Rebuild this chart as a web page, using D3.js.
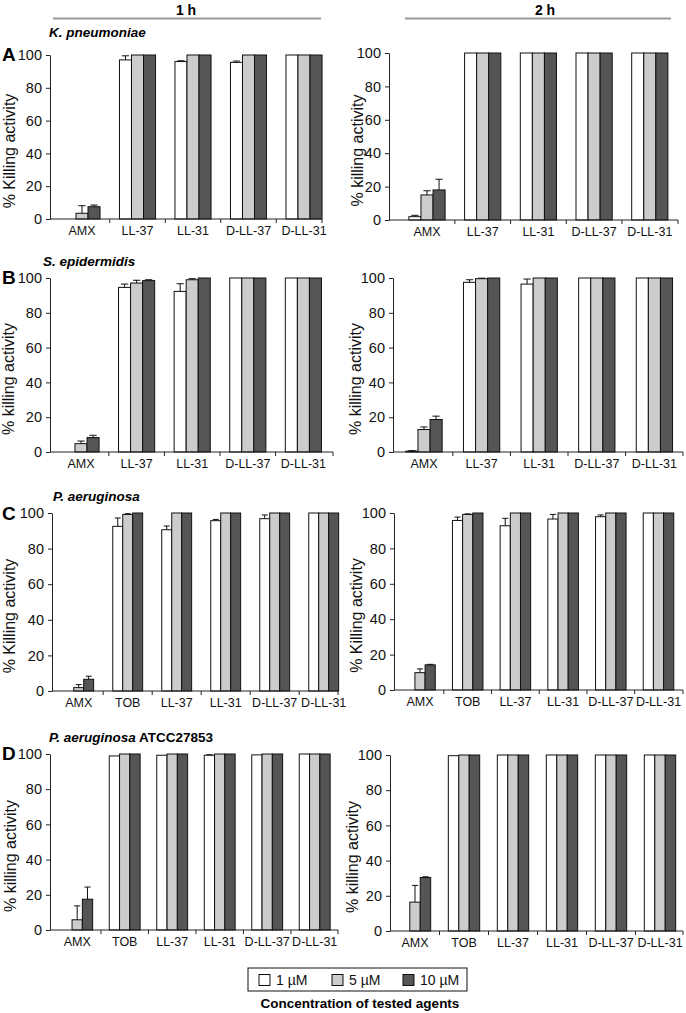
<!DOCTYPE html>
<html><head><meta charset="utf-8">
<script src="https://cdn.jsdelivr.net/npm/d3@7"></script>
<style>
body{margin:0;background:#fff}
svg{display:block;font-family:"Liberation Sans",Arial,sans-serif}
</style>
</head><body>
<svg id="chart" width="686" height="1013"></svg>
<script>
// ---------- DATA ----------
const concentrations = ["1 µM", "5 µM", "10 µM"];
const agents5 = ["AMX", "LL-37", "LL-31", "D-LL-37", "D-LL-31"];
const agents6 = ["AMX", "TOB", "LL-37", "LL-31", "D-LL-37", "D-LL-31"];
const yTicks = [0, 20, 40, 60, 80, 100];

// K. pneumoniae
const kp1h    = [[0, 3.5, 7.5], [97, 100, 100], [96, 100, 100], [95.5, 100, 100], [100, 100, 100]];
const kp1hErr = [[0, 4.6, 1], [2.5, 0, 0], [0.5, 0, 0], [0.8, 0, 0], [0, 0, 0]];
const kp2h    = [[2, 15, 18], [100, 100, 100], [100, 100, 100], [100, 100, 100], [100, 100, 100]];
const kp2hErr = [[0.8, 2.5, 6.4], [0, 0, 0], [0, 0, 0], [0, 0, 0], [0, 0, 0]];
// S. epidermidis
const se1h    = [[0, 4.8, 8.3], [94.6, 97.1, 98.5], [92.3, 99, 100], [100, 100, 100], [100, 100, 100]];
const se1hErr = [[0, 1.5, 1.3], [1.9, 1.6, 0.5], [4.4, 0.6, 0], [0, 0, 0], [0, 0, 0]];
const se2h    = [[0.5, 12.9, 18.7], [97.5, 99.6, 100], [96.5, 100, 100], [100, 100, 100], [100, 100, 100]];
const se2hErr = [[0.3, 1.5, 1.9], [1.5, 0.3, 0], [2.9, 0, 0], [0, 0, 0], [0, 0, 0]];
// P. aeruginosa
const pa1h    = [[0, 1.9, 6.6], [92.5, 99.2, 100], [90.6, 100, 100], [95.7, 100, 100], [96.8, 100, 100], [100, 100, 100]];
const pa1hErr = [[0, 1.7, 1.7], [4.7, 0.4, 0], [2.1, 0, 0], [0.7, 0, 0], [2.1, 0, 0], [0, 0, 0]];
const pa2h    = [[0, 9.8, 14.2], [95.8, 99.2, 100], [92.8, 100, 100], [96.6, 100, 100], [97.9, 100, 100], [100, 100, 100]];
const pa2hErr = [[0, 2.1, 0.3], [1.9, 0.3, 0], [4.2, 0, 0], [2.6, 0, 0], [1, 0, 0], [0, 0, 0]];
// P. aeruginosa ATCC27853
const atcc1h    = [[0, 5.8, 17.5], [98.9, 100, 100], [99.3, 100, 100], [99.3, 100, 100], [99.5, 100, 100], [100, 100, 100]];
const atcc1hErr = [[0, 7.9, 6.9], [0, 0, 0], [0, 0, 0], [0.3, 0, 0], [0, 0, 0], [0, 0, 0]];
const atcc2h    = [[0, 16.4, 30.4], [99.6, 100, 100], [100, 100, 100], [100, 100, 100], [100, 100, 100], [100, 100, 100]];
const atcc2hErr = [[0, 9.5, 0.4], [0, 0, 0], [0, 0, 0], [0, 0, 0], [0, 0, 0], [0, 0, 0]];

// ---------- STYLE ----------
const fills = ["#ffffff", "#cccccc", "#555555"];

const svg = d3.select("#chart");

const panels = [
  {cats: agents5, vals: kp1h, err: kp1hErr, title: "% Killing activity", x0: 50, xEnd: 322, y0: 219, y100: 55, c0: 82, step: 55.5, pad: 0.35, tx: 15},
  {cats: agents5, vals: kp2h, err: kp2hErr, title: "% killing activity", x0: 389, xEnd: 678, y0: 220, y100: 53, c0: 427, step: 55.7, pad: 0.35, tx: 363},
  {cats: agents5, vals: se1h, err: se1hErr, title: "% killing activity", x0: 50, xEnd: 333, y0: 452, y100: 278, c0: 81, step: 55.6, pad: 0.35, tx: 14},
  {cats: agents5, vals: se2h, err: se2hErr, title: "% killing activity", x0: 393, xEnd: 683, y0: 452, y100: 278, c0: 424, step: 57.6, pad: 0.37, tx: 361},
  {cats: agents6, vals: pa1h, err: pa1hErr, title: "% Killing activity", x0: 52, xEnd: 338, y0: 691, y100: 513, c0: 78.7, step: 49, pad: 0.39, tx: 15},
  {cats: agents6, vals: pa2h, err: pa2hErr, title: "% Killing activity", x0: 394, xEnd: 683, y0: 690, y100: 513, c0: 420, step: 47.7, pad: 0.36, tx: 362},
  {cats: agents6, vals: atcc1h, err: atcc1hErr, title: "% killing activity", x0: 50, xEnd: 338, y0: 930, y100: 754, c0: 77.2, step: 47.5, pad: 0.35, tx: 16},
  {cats: agents6, vals: atcc2h, err: atcc2hErr, title: "% killing activity", x0: 390, xEnd: 683, y0: 931, y100: 755, c0: 415, step: 49, pad: 0.36, tx: 358}
];

function drawPanel(p) {
  const g = svg.append("g");
  const y = d3.scaleLinear().domain([0, 100]).range([p.y0, p.y100]);
  const n = p.cats.length;
  const start = p.c0 - p.step / 2;
  const x = d3.scaleBand().domain(p.cats).range([start, start + n * p.step])
    .paddingInner(p.pad).paddingOuter(p.pad / 2);
  const xs = d3.scaleBand().domain(concentrations).range([0, x.bandwidth()]);

  // bars
  p.cats.forEach((c, i) => {
    concentrations.forEach((k, j) => {
      const v = p.vals[i][j];
      if (v <= 0) return;
      g.append("rect")
        .attr("x", x(c) + xs(k))
        .attr("y", y(v))
        .attr("width", xs.bandwidth())
        .attr("height", y(0) - y(v))
        .attr("fill", fills[j])
        .attr("stroke", "#111")
        .attr("stroke-width", 1);
    });
  });
  // error bars
  p.cats.forEach((c, i) => {
    concentrations.forEach((k, j) => {
      const v = p.vals[i][j], e = p.err[i][j];
      if (e <= 0) return;
      const cx = x(c) + xs(k) + xs.bandwidth() / 2;
      const cw = xs.bandwidth() * 0.3;
      g.append("line").attr("x1", cx).attr("x2", cx).attr("y1", y(v)).attr("y2", y(v + e))
        .attr("stroke", "#111").attr("stroke-width", 1);
      g.append("line").attr("x1", cx - cw).attr("x2", cx + cw).attr("y1", y(v + e)).attr("y2", y(v + e))
        .attr("stroke", "#111").attr("stroke-width", 1);
    });
  });

  // y axis
  const ya = g.append("g").attr("transform", `translate(${p.x0},0)`)
    .call(d3.axisLeft(y).tickValues(yTicks).tickSize(4).tickSizeOuter(0).tickPadding(4));
  ya.selectAll("text").attr("font-size", 14.5).attr("fill", "#111").attr("font-family", "Liberation Sans, Arial, sans-serif");
  ya.selectAll("line, path").attr("stroke", "#222");

  // x axis
  const xa = g.append("g").attr("transform", `translate(0,${p.y0})`)
    .call(d3.axisBottom(x).tickSize(0).tickPadding(7));
  xa.select(".domain").remove();
  xa.selectAll("text").attr("font-size", 12.5).attr("fill", "#111").attr("font-family", "Liberation Sans, Arial, sans-serif");
  g.append("line").attr("x1", p.x0).attr("x2", p.xEnd).attr("y1", p.y0).attr("y2", p.y0)
    .attr("stroke", "#222").attr("stroke-width", 1);
  const bounds = d3.range(1, n).map(i => start + i * p.step);
  bounds.push(p.xEnd);
  bounds.forEach(b => {
    g.append("line").attr("x1", b).attr("x2", b).attr("y1", p.y0).attr("y2", p.y0 + 4)
      .attr("stroke", "#222").attr("stroke-width", 1);
  });

  // y title
  g.append("text")
    .attr("transform", `translate(${p.tx},${(p.y0 + p.y100) / 2 + 14}) rotate(-90)`)
    .attr("text-anchor", "middle")
    .attr("font-size", 16)
    .attr("fill", "#111")
    .text(p.title);
}

panels.forEach(drawPanel);

// ---------- header ----------
svg.append("text").attr("x", 186).attr("y", 15).attr("text-anchor", "middle")
  .attr("font-size", 14).attr("font-weight", "bold").text("1 h");
svg.append("line").attr("x1", 53).attr("x2", 321).attr("y1", 18.5).attr("y2", 18.5)
  .attr("stroke", "#999").attr("stroke-width", 2);
svg.append("text").attr("x", 545).attr("y", 15).attr("text-anchor", "middle")
  .attr("font-size", 14).attr("font-weight", "bold").text("2 h");
svg.append("line").attr("x1", 405).attr("x2", 671).attr("y1", 18.5).attr("y2", 18.5)
  .attr("stroke", "#999").attr("stroke-width", 2);

// panel letters & species
const letters = [
  {l: "A", y: 61, sy: 37, sx: 49, sp: "K. pneumoniae", extra: ""},
  {l: "B", y: 284, sy: 266, sx: 43, sp: "S. epidermidis", extra: ""},
  {l: "C", y: 520, sy: 501, sx: 53, sp: "P. aeruginosa", extra: ""},
  {l: "D", y: 760, sy: 742, sx: 49, sp: "P. aeruginosa", extra: " ATCC27853"}
];
letters.forEach(d => {
  svg.append("text").attr("x", 2).attr("y", d.y).attr("font-size", 19).attr("font-weight", "bold").text(d.l);
  const t = svg.append("text").attr("x", d.sx).attr("y", d.sy).attr("font-size", 13.5).attr("font-weight", "bold");
  t.append("tspan").attr("font-style", "italic").text(d.sp);
  if (d.extra) t.append("tspan").text(d.extra);
});

// ---------- legend ----------
const lg = svg.append("g");
lg.append("rect").attr("x", 248).attr("y", 968).attr("width", 219).attr("height", 23)
  .attr("fill", "none").attr("stroke", "#111").attr("stroke-width", 1);
const legX = [259, 332, 403];
concentrations.forEach((c, j) => {
  lg.append("rect").attr("x", legX[j]).attr("y", 974.5).attr("width", 11).attr("height", 11)
    .attr("fill", fills[j]).attr("stroke", "#111").attr("stroke-width", 1);
  lg.append("text").attr("x", legX[j] + 17).attr("y", 985).attr("font-size", 14).attr("fill", "#111").text(c);
});
svg.append("text").attr("x", 360).attr("y", 1008).attr("text-anchor", "middle")
  .attr("font-size", 13.5).attr("font-weight", "bold").text("Concentration of tested agents");
</script>
</body></html>
